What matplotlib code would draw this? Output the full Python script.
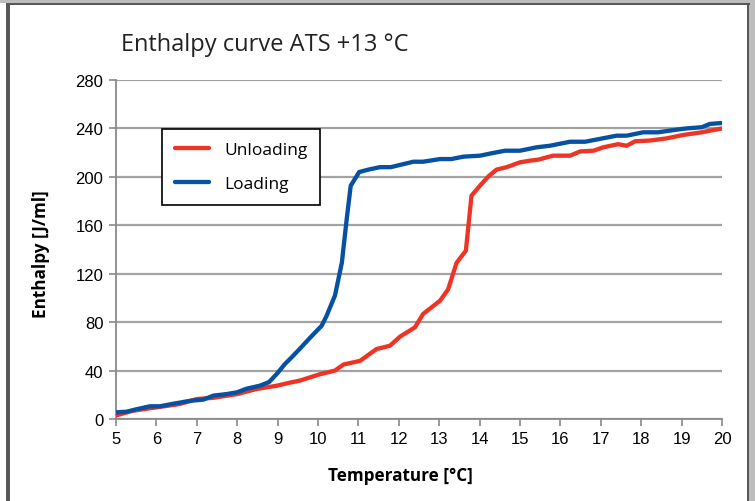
import matplotlib
matplotlib.use("Agg")
import matplotlib.pyplot as plt
from matplotlib.patches import Rectangle

# ---- data ----
load_T = [5.0, 5.26, 5.5, 5.84, 6.09, 6.4, 6.83, 7.16, 7.41, 7.74, 7.99, 8.23, 8.56,
          8.79, 9.0, 9.18, 9.35, 9.55, 9.8, 10.09, 10.21, 10.42, 10.59, 10.71, 10.81,
          11.02, 11.25, 11.53, 11.8, 12.05, 12.36, 12.6, 13.02, 13.3, 13.6, 14.01, 14.3,
          14.63, 15.0, 15.41, 15.74, 16.24, 16.61, 17.0, 17.39, 17.64, 18.05, 18.42,
          18.88, 19.12, 19.5, 19.7, 20.0]
load_H = [5.5, 6, 8, 10.5, 10.5, 12.5, 15, 16, 19.3, 20.6, 22, 25, 27.5,
          30.5, 38, 45.4, 51, 58, 67, 77, 85, 102, 129, 165, 192.7,
          204, 206, 208, 208, 210, 212.5, 212.5, 214.7, 214.7, 216.7, 217.5, 219.5,
          221.6, 221.6, 224.4, 225.7, 229, 229, 231.5, 234, 234, 236.8, 236.8,
          239, 240, 241, 243.7, 244.5]

unload_T = [5.0, 5.43, 6.0, 6.58, 7.0, 7.41, 8.0, 8.48, 8.98, 9.3, 9.55, 10.05, 10.42,
            10.63, 11.04, 11.45, 11.78, 12.03, 12.4, 12.6, 13.02, 13.22, 13.43, 13.66,
            13.80, 14.01, 14.22, 14.42, 14.67, 15.0, 15.25, 15.45, 15.82, 16.24, 16.49,
            16.82, 17.06, 17.43, 17.64, 17.85, 18.22, 18.63, 19.04, 19.5, 20.0]
unload_H = [3, 6.9, 9.6, 12.4, 16.5, 17.5, 20.6, 24.8, 27.5, 30, 31.7, 37, 40,
            45, 48, 57.8, 60.5, 68, 75.7, 86.7, 97.7, 107, 129, 139,
            184.5, 192.7, 200.4, 206, 208, 212, 213.4, 214.2, 217.5, 217.5, 221,
            221.6, 224.4, 227, 225.7, 229.4, 230, 231.8, 234.6, 236.8, 240]

x_ticks = list(range(5, 21))
y_ticks = [0, 40, 80, 120, 160, 200, 240, 280]
title = "Enthalpy curve ATS +13 °C"
xlabel = "Temperature [°C]"
ylabel = "Enthalpy [J/ml]"
series_labels = ["Unloading", "Loading"]

RED = "#EE3424"
BLUE = "#0651A1"
GRID = "#a3a3a3"
SPINE = "#8a8a8a"

W, H = 755, 502
fig = plt.figure(figsize=(W / 100, H / 100), dpi=100)
fig.patch.set_facecolor("white")

# frame decorations (page border)
def px_rect(x0, y0, w, h, color):
    fig.patches.append(Rectangle((x0 / W, 1 - (y0 + h) / H), w / W, h / H,
                                 transform=fig.transFigure, color=color, zorder=0,
                                 linewidth=0))

px_rect(0, 0, W, 4, "#bdbdbd")
px_rect(749, 0, 6, H, "#bdbdbd")
px_rect(5.5, 4, 744, 2.2, "#585858")
px_rect(5.5, 4, 4, H, "#585858")
px_rect(746.5, 4, 2.8, H, "#585858")

ax = fig.add_axes([116 / W, 1 - 420 / H, (722 - 116) / W, (420 - 81) / H])
ax.set_xlim(5, 20)
ax.set_ylim(0, 280)

ax.plot(unload_T, unload_H, color=RED, lw=3.1, solid_capstyle="round",
        solid_joinstyle="round", label=series_labels[0], zorder=3)
ax.plot(load_T, load_H, color=BLUE, lw=3.1, solid_capstyle="round",
        solid_joinstyle="round", label=series_labels[1], zorder=3)

ax.set_xticks(x_ticks)
ax.set_yticks(y_ticks)
ax.yaxis.grid(True, color=GRID, lw=1.6)
ax.set_axisbelow(True)
for s in ["top", "right"]:
    ax.spines[s].set_visible(False)
for s in ["left", "bottom"]:
    ax.spines[s].set_color(SPINE)
    ax.spines[s].set_linewidth(1.3)
ax.tick_params(axis="both", colors=SPINE, length=5, width=1.2,
               labelcolor="black", labelsize=12, pad=4)
for lab in ax.get_xticklabels() + ax.get_yticklabels():
    lab.set_family("Liberation Sans")

fig.text(121 / W, 1 - 45 / H, title, fontsize=17, family="Open Sans",
         color="#222222", ha="left", va="center")
fig.text(400 / W, 1 - 476 / H, xlabel, fontsize=12.3, family="Open Sans",
         weight="bold", ha="center", va="center")
fig.text(41 / W, 1 - 254 / H, ylabel, fontsize=12.3, family="Open Sans",
         weight="bold", ha="center", va="center", rotation=90)

leg = ax.legend(loc="upper left", bbox_to_anchor=(162 / W, 1 - 130 / H),
                bbox_transform=fig.transFigure, borderaxespad=0,
                prop={"family": "Open Sans", "size": 12.5}, frameon=True,
                fancybox=False, edgecolor="black", framealpha=1,
                handlelength=2.0, handletextpad=0.85, borderpad=0.72,
                labelspacing=1.05)
leg.get_frame().set_linewidth(1.2)

fig.savefig("out.png", dpi=100)
